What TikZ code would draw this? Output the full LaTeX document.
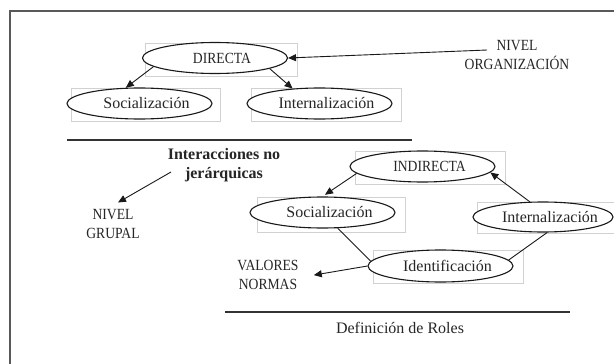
\documentclass[tikz,border=0pt]{standalone}
\usepackage{fontspec}
\setmainfont{Liberation Serif}
\newfontfamily\capsfont{Liberation Serif}[FakeStretch=0.88]
\usetikzlibrary{arrows.meta,shapes.geometric}
\newcommand\myshiftedtxt[1]{\makebox[0pt]{\hspace*{14pt}#1}}
\begin{document}
\begin{tikzpicture}[x=1pt,y=-1pt,
  txt/.style={text=black!85, inner sep=0pt},
  capstxt/.style={txt, font=\capsfont\fontsize{15.5}{18.5}\selectfont, align=center},
  lowtxt/.style={txt, font=\fontsize{16}{19}\selectfont, align=center},
  ell/.style={ellipse, draw=black!90, line width=1.1pt, fill=white, inner sep=0pt,
              minimum width=145pt, minimum height=31pt, text=black!85},
  rectc/.style={draw=black!18, line width=0.6pt},
  framec/.style={draw=black!65, line width=1.3pt},
  sepline/.style={draw=black!80, line width=1.1pt},
  arr/.style={draw=black!90, line width=0.9pt, -{Triangle[length=8pt,width=7pt]}},
  plain/.style={draw=black!90, line width=0.9pt}
]
\useasboundingbox (0,0) rectangle (614,364);
\fill[white] (0,0) rectangle (614,364);
% frame
\draw[framec] (620,11) -- (10,11) -- (10,370);
% separators
\draw[sepline] (67,140) -- (412,140);
\draw[sepline] (225,312) -- (570,312);
% light bounding rectangles behind ellipses
\draw[rectc] (145,43) rectangle (297,76);
\draw[rectc] (71,88) rectangle (220,121);
\draw[rectc] (251,88) rectangle (401,121);
\draw[rectc] (355,151) rectangle (505,184);
\draw[rectc] (257,197) rectangle (405,232);
\draw[rectc] (477,202) rectangle (620,233);
\draw[rectc] (373,250) rectangle (523,283);
% ellipses
\node[ell, font=\capsfont\fontsize{15.5}{18.5}\selectfont] (dir) at (215,58) {\myshiftedtxt{DIRECTA}};
\node[ell, font=\fontsize{16}{19}\selectfont] (soct) at (139.5,103.5) {\myshiftedtxt{Socialización}};
\node[ell, font=\fontsize{16}{19}\selectfont] (intt) at (319.5,103.5) {\myshiftedtxt{Internalización}};
\node[ell, font=\capsfont\fontsize{15.5}{18.5}\selectfont] (indir) at (422.5,166.5) {\myshiftedtxt{INDIRECTA}};
\node[ell, font=\fontsize{16}{19}\selectfont] (socb) at (322.5,212.5) {\myshiftedtxt{Socialización}};
\node[ell, font=\fontsize{16}{19}\selectfont, minimum width=140pt, minimum height=30pt] (intb) at (543,217) {\myshiftedtxt{Internalización}};
\node[ell, font=\fontsize{16}{19}\selectfont, minimum height=32pt] (ident) at (440.5,266) {\myshiftedtxt{Identificación}};
% text labels
\node[capstxt] (norg) at (517,55.1) {NIVEL\\ORGANIZACIÓN};
\node[lowtxt, font=\bfseries\fontsize{16}{19}\selectfont] (inter) at (224,164.9) {Interacciones no\\jerárquicas};
\node[capstxt] (ngrup) at (113,224.1) {NIVEL\\GRUPAL};
\node[capstxt] (val) at (268,275.1) {VALORES\\NORMAS};
\node[lowtxt, anchor=base] (roles) at (400,333) {Definición de Roles};
% free ends
\coordinate (orgtail) at (487,50);
\coordinate (intail) at (171,172);
% connectors
\draw[arr] (orgtail) -- (dir.east);
\draw[arr] (dir.188) -- (soct.131);
\draw[arr] (dir.-11) -- (intt.151);
\draw[arr] (intail) -- ([xshift=5pt,yshift=7pt]ngrup.north);
\draw[arr, shorten >=3pt] (indir.186) -- (socb.90);
\draw[arr] (intb.131) -- (indir.-5);
\draw[plain] (socb.-46) -- (ident.176);
\draw[plain] (intb.-75) -- (ident.5);
\draw[arr] (ident.180) -- ([xshift=15pt]val.east);
\end{tikzpicture}
\end{document}
